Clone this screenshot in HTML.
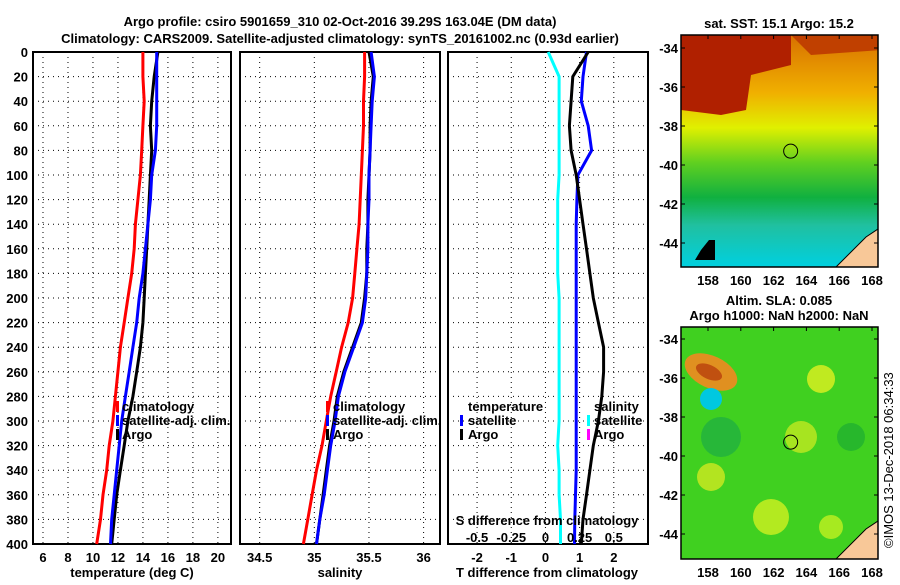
<!DOCTYPE html>
<html><head><meta charset="utf-8">
<style>
body{margin:0;background:#fff;width:900px;height:580px;overflow:hidden;font-family:"Liberation Sans",sans-serif;}
svg text{font-family:"Liberation Sans",sans-serif;font-weight:bold;font-size:13px;fill:#000;}
</style></head><body>
<svg id="chart" width="900" height="580" xmlns="http://www.w3.org/2000/svg">
<text x="340" y="26" text-anchor="middle" font-size="14">Argo profile: csiro 5901659_310 02-Oct-2016 39.29S 163.04E (DM data)</text>
<text x="340" y="43" text-anchor="middle" font-size="14">Climatology: CARS2009. Satellite-adjusted climatology: synTS_20161002.nc (0.93d earlier)</text>
<g id="plots"></g>
<g id="maps"></g>
<text transform="translate(893,548) rotate(-90)" font-size="12" style="font-weight:normal">©IMOS 13-Dec-2018 06:34:33</text>
</svg>
<script>
// depths
const depthTicks=[0,20,40,60,80,100,120,140,160,180,200,220,240,260,280,300,320,340,360,380,400];
// panel 1 temperature
const tDepth=[0,20,40,60,80,100,120,140,160,180,200,220,240,260,280,300,320,340,360,380,400];
const tClim=[14.0,14.0,14.1,14.0,13.9,13.8,13.6,13.4,13.3,13.1,12.8,12.5,12.2,12.0,11.8,11.6,11.3,11.1,10.8,10.6,10.3];
const tSat=[15.1,15.1,15.1,15.1,15.0,14.7,14.6,14.4,14.2,14.0,13.7,13.5,13.2,12.9,12.6,12.3,12.1,11.9,11.7,11.5,11.4];
const tArgo=[15.2,14.9,14.7,14.6,14.7,14.6,14.5,14.4,14.3,14.2,14.1,14.0,13.8,13.5,13.2,12.8,12.5,12.2,11.9,11.7,11.5];
const tTicks=[6,8,10,12,14,16,18,20];
// panel 2 salinity
const sClim=[35.46,35.46,35.45,35.45,35.44,35.43,35.42,35.41,35.39,35.37,35.35,35.31,35.25,35.2,35.15,35.11,35.07,35.02,34.98,34.94,34.9];
const sSat=[35.52,35.55,35.53,35.52,35.51,35.5,35.5,35.49,35.49,35.48,35.47,35.44,35.36,35.28,35.22,35.19,35.15,35.12,35.09,35.05,35.02];
const sArgo=[35.5,35.54,35.52,35.51,35.51,35.5,35.49,35.49,35.48,35.48,35.46,35.43,35.35,35.27,35.21,35.18,35.14,35.11,35.08,35.05,35.02];
const sTicks=[34.5,35,35.5,36];
// panel 3 differences
const dTSat=[1.2,1.1,1.05,1.25,1.35,0.95,0.92,0.9,0.9,0.9,0.9,0.9,0.9,0.9,0.9,0.9,0.9,0.9,0.88,0.86,0.85];
const dTArgo=[1.25,0.8,0.75,0.7,0.75,0.9,1.0,1.1,1.2,1.3,1.4,1.55,1.7,1.7,1.65,1.55,1.4,1.3,1.2,1.1,1.05];
const dSSat=[0.02,0.1,0.1,0.1,0.1,0.1,0.09,0.09,0.09,0.09,0.1,0.1,0.1,0.1,0.1,0.1,0.09,0.1,0.1,0.11,0.11];
const dTTicks=[-2,-1,0,1,2];
const dSTicks=[-0.5,-0.25,0,0.25,0.5];

const NS='http://www.w3.org/2000/svg';
const plots=document.getElementById('plots');
function mk(tag,attrs,parent){const e=document.createElementNS(NS,tag);for(const k in attrs)e.setAttribute(k,attrs[k]);(parent||plots).appendChild(e);return e;}
const Y0=52,Y1=544;
function yS(d){return Y0+(d/400)*(Y1-Y0);}
function panel(x0,x1,vmin,vmax,ticks,label,name){
  const g=mk('g',{});
  
  
  const xs=v=>x0+(v-vmin)/(vmax-vmin)*(x1-x0);
  depthTicks.forEach(d=>{if(d>0&&d<400){const l=mk('line',{x1:x0,x2:x1,y1:yS(d),y2:yS(d),stroke:'#000','stroke-dasharray':'1,4'},g);}});
  ticks.forEach(v=>{const X=xs(v);const l=mk('line',{x1:X,x2:X,y1:Y0,y2:Y1+2,stroke:'#000','stroke-dasharray':'1,4'},g);
    if(label){const t=mk('text',{x:X,y:Y1+18,'text-anchor':'middle'},g);t.textContent=v;}});
  const r=mk('rect',{x:x0,y:Y0,width:x1-x0,height:Y1-Y0,fill:'none',stroke:'#000','stroke-width':2},g);
  
  return {g,xs};
}
function line(p,vals,col,name){
  const pts=vals.map((v,i)=>p.xs(v).toFixed(1)+','+yS(tDepth[i]).toFixed(1)).join(' ');
  const l=mk('polyline',{points:pts,fill:'none',stroke:col,'stroke-width':3},p.g);
  
  
}
function txt(g,x,y,s,name,anchor,fs){const t=mk('text',{x:x,y:y,'text-anchor':anchor||'start'},g);if(fs)t.setAttribute('font-size',fs);t.textContent=s;return t;}
function legMark(g,x,y,col){const r=mk('rect',{x:x,y:y-10,width:3,height:11,fill:col},g);}

// y-axis labels
depthTicks.forEach(d=>{txt(plots,28,yS(d)+5,d,'y-tick-label','end');});

// panel 1
const p1=panel(33,231,5.2,21.05,tTicks,true,'temperature-panel');
line(p1,tClim,'#f00','temp-climatology-line');
line(p1,tArgo,'#000','temp-argo-line');
line(p1,tSat,'#00f','temp-satellite-line');
txt(p1.g,132,577,'temperature (deg C)','x-axis-title','middle');
legMark(p1.g,116,411,'#f00');txt(p1.g,122,411,'climatology','legend-entry',null,12);
legMark(p1.g,116,425,'#00f');txt(p1.g,122,425,'satellite-adj. clim.','legend-entry',null,12);
legMark(p1.g,116,439,'#000');txt(p1.g,122,439,'Argo','legend-entry',null,12);

// panel 2
const p2=panel(240,440,34.32,36.15,sTicks,true,'salinity-panel');
line(p2,sClim,'#f00','sal-climatology-line');
line(p2,sArgo,'#000','sal-argo-line');
line(p2,sSat,'#00f','sal-satellite-line');
txt(p2.g,340,577,'salinity','x-axis-title','middle');
legMark(p2.g,326,411,'#f00');txt(p2.g,333,411,'climatology','legend-entry');
legMark(p2.g,326,425,'#00f');txt(p2.g,333,425,'satellite-adj. clim.','legend-entry');
legMark(p2.g,326,439,'#000');txt(p2.g,333,439,'Argo','legend-entry');

// panel 3
const p3=panel(448,648,-2.85,3.0,dTTicks,true,'difference-panel');
const sxs=v=>p3.xs(v*4);
const sp={g:p3.g,xs:sxs};
line(sp,dSSat,'#0ff','sal-diff-satellite-line');
line(p3,dTSat,'#00f','temp-diff-satellite-line');
line(p3,dTArgo,'#000','temp-diff-argo-line');
dSTicks.forEach(v=>txt(p3.g,sxs(v),542,v,'s-tick-label','middle'));
txt(p3.g,547,525,'S difference from climatology','s-axis-title','middle');
txt(p3.g,547,577,'T difference from climatology','x-axis-title','middle');
txt(p3.g,468,411,'temperature','legend-header');
legMark(p3.g,460,425,'#00f');txt(p3.g,468,425,'satellite','legend-entry');
legMark(p3.g,460,439,'#000');txt(p3.g,468,439,'Argo','legend-entry');
txt(p3.g,594,411,'salinity','legend-header');
legMark(p3.g,587,425,'#0ff');txt(p3.g,594,425,'satellite','legend-entry');
legMark(p3.g,587,439,'#f0f');txt(p3.g,594,439,'Argo','legend-entry');

// maps
const maps=document.getElementById('maps');
function mapPanel(y0,h,latTop,title1,title2,kind){
  const g=mk('g',{},maps);
  
  
  const x0=681,w=197;
  const lon=v=>708+(v-158)*16.4, lat=v=>latTop+(-34-v)*19.5;
  if(title1)txt(g,779,y0-22,title1,'map-title','middle');
  if(title2)txt(g,779,y0-7,title2,'map-title','middle');
  const cp=mk('clipPath',{id:'cp'+kind},g);mk('rect',{x:x0,y:y0,width:w,height:h},cp);
  const c=mk('g',{'clip-path':'url(#cp'+kind+')'},g);
  if(kind==='sst'){
    const gr=mk('linearGradient',{id:'gsst',x1:0,y1:0,x2:0,y2:1},g);
    [['0','#d87000'],['0.25','#f0b000'],['0.4','#e0f000'],['0.55','#60d020'],['0.7','#10b040'],['0.82','#20c0a0'],['1','#00d0e0']].forEach(s=>mk('stop',{offset:s[0],'stop-color':s[1]},gr));
    mk('rect',{x:x0,y:y0,width:w,height:h,fill:'url(#gsst)'},c);
    mk('path',{d:`M${x0} ${y0} H${x0+110} V${y0+30} L${x0+70} ${y0+40} L${x0+65} ${y0+75} L${x0+40} ${y0+80} L${x0} ${y0+75} Z`,fill:'#b02000'},c);
    mk('path',{d:`M${x0+110} ${y0} H${x0+200} V${y0+15} L${x0+130} ${y0+20} Z`,fill:'#c04000'},c);
    mk('path',{d:`M${x0+20} ${y0+215} l8 -10 l6 0 l0 20 l-20 0 Z`,fill:'#000'},c);
  }else{
    mk('rect',{x:x0,y:y0,width:w,height:h,fill:'#40d020'},c);
    [[140,52,14,'#e0f020'],[120,110,16,'#c0e820'],[30,150,14,'#d0e820'],[40,110,20,'#20b040'],[90,190,18,'#d0f020'],[170,110,14,'#20b030'],[150,200,12,'#c0f020']].forEach(b=>mk('circle',{cx:x0+b[0],cy:y0+b[1],r:b[2],fill:b[3],opacity:0.8},c));
    mk('ellipse',{cx:x0+30,cy:y0+45,rx:28,ry:16,fill:'#e09020',transform:`rotate(25 ${x0+30} ${y0+45})`},c);
    mk('ellipse',{cx:x0+28,cy:y0+45,rx:14,ry:7,fill:'#c05010',transform:`rotate(25 ${x0+28} ${y0+45})`},c);
    mk('circle',{cx:x0+30,cy:y0+72,r:11,fill:'#00c8e0'},c);
  }
  mk('path',{d:`M${x0+155} ${y0+h} L${x0+185} ${y0+h-30} L${x0+w} ${y0+h-38} V${y0+h} Z`,fill:'#f8c898',stroke:'#000','stroke-width':1},c);
  const ci=mk('circle',{cx:lon(163.04),cy:lat(-39.29),r:7,fill:'none',stroke:'#000'},g);
  
  mk('rect',{x:x0,y:y0,width:w,height:h,fill:'none',stroke:'#000','stroke-width':1.5},g);
  [-34,-36,-38,-40,-42,-44].forEach(v=>{mk('line',{x1:x0,x2:x0+4,y1:lat(v),y2:lat(v),stroke:'#000'},g);mk('line',{x1:x0+w-4,x2:x0+w,y1:lat(v),y2:lat(v),stroke:'#000'},g);txt(g,x0-3,lat(v)+5,v,'lat-tick-label','end');});
  [158,160,162,164,166,168].forEach(v=>{mk('line',{x1:lon(v),x2:lon(v),y1:y0,y2:y0+4,stroke:'#000'},g);txt(g,lon(v),y0+h+18,v,'lon-tick-label','middle');});
}
mapPanel(35,232,48,null,'sat. SST: 15.1 Argo: 15.2','sst');
mapPanel(327,232,339,'Altim. SLA: 0.085','Argo h1000: NaN h2000: NaN','sla');
</script>
</body></html>
